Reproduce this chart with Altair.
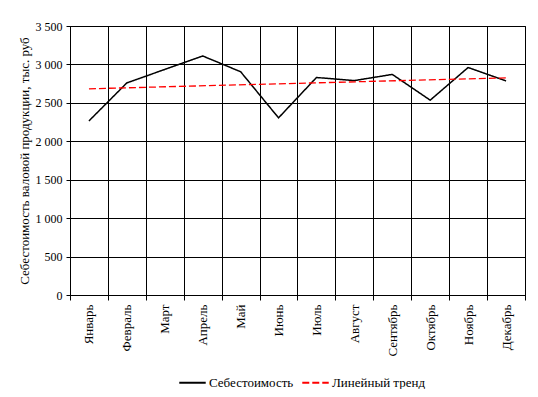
import altair as alt
import pandas as pd

months = ["Январь", "Февраль", "Март", "Апрель", "Май", "Июнь", "Июль",
          "Август", "Сентябрь", "Октябрь", "Ноябрь", "Декабрь"]
cost = [2265, 2760, 2935, 3110, 2905, 2305, 2830, 2790, 2870, 2535, 2960, 2785]
series_names = ["Себестоимость", "Линейный тренд"]
y_ticks = [0, 500, 1000, 1500, 2000, 2500, 3000, 3500]

df = pd.DataFrame({"month": months, "idx": list(range(1, 13)), "cost": cost,
                   "series": series_names[0]})

FONT = "Liberation Serif"

x = alt.X("month:N", sort=months, title=None,
          scale=alt.Scale(paddingInner=0, paddingOuter=0),
          axis=alt.Axis(labelAngle=270, tickBand="extent", grid=True,
                        gridColor="black", gridOpacity=1, domainColor="black",
                        tickColor="black", tickSize=5,
                        labelFont=FONT, labelFontSize=13, labelColor="black",
                        labelPadding=4))
y = alt.Y("cost:Q", title="Себестоимость валовой продукции, тыс. руб",
          scale=alt.Scale(domain=[0, 3500], nice=False),
          axis=alt.Axis(values=y_ticks, labelOverlap=False,
                        labelExpr="replace(format(datum.value, ','), ',', ' ')",
                        grid=True, gridColor="black", gridOpacity=1,
                        domainColor="black", tickColor="black", tickSize=4,
                        labelFont=FONT, labelFontSize=12, labelColor="black",
                        titleFont=FONT, titleFontSize=13, titleFontWeight="normal",
                        titleColor="black", titlePadding=4, labelPadding=4))

color = alt.Color("series:N", title=None,
                  scale=alt.Scale(domain=series_names, range=["black", "#ff0000"]),
                  legend=alt.Legend(orient="none", legendX=108, legendY=342,
                                    direction="horizontal", symbolType="stroke",
                                    symbolSize=700, symbolStrokeWidth=2,
                                    labelFont=FONT, labelFontSize=13,
                                    labelColor="black", columnPadding=4,
                                    labelOffset=2))
dash = alt.StrokeDash("series:N",
                      scale=alt.Scale(domain=series_names, range=[[1, 0], [7, 3]]),
                      legend=None)

line = alt.Chart(df).mark_line(strokeWidth=1.5).encode(
    x=x, y=y, color=color, strokeDash=dash)

trend = alt.Chart(df).transform_regression(
    "idx", "cost", extent=[1, 12]
).transform_calculate(
    month="['Январь','Февраль','Март','Апрель','Май','Июнь','Июль','Август','Сентябрь','Октябрь','Ноябрь','Декабрь'][round(datum.idx) - 1]",
    series="'Линейный тренд'"
).mark_line(strokeWidth=1.3).encode(
    x=x, y=y, color=color, strokeDash=dash)

chart = alt.layer(line, trend).properties(
    width=455, height=269,
    autosize=alt.AutoSizeParams(type="none"),
    padding={"left": 62, "top": 18, "right": 5, "bottom": 94},
    background="white"
).configure_view(stroke="black", strokeWidth=1)

chart.save("out.html", embed_options={"renderer": "svg", "actions": False})
